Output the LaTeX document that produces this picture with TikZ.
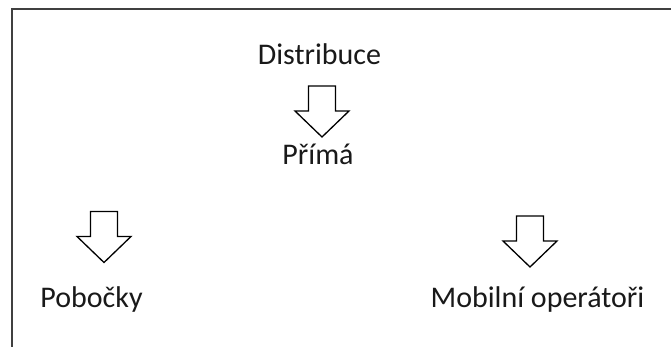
\documentclass[tikz,border=0pt]{standalone}
\usepackage{fontspec}
\setmainfont{Carlito}
\begin{document}
\begin{tikzpicture}[x=1pt,y=-1pt,
  frame/.style={draw=black!75,line width=2pt},
  label/.style={anchor=base,inner sep=0pt,font=\fontsize{30}{32}\selectfont,text=black!90},
  downarrow/.style={draw=black,line width=1.3pt,fill=white,line join=miter}
]
\useasboundingbox (0,0) rectangle (671,347);
% open frame: top and left sides only
\draw[frame] (11.5,347) -- (11.5,9.5) -- (671,9.5);

% labels
\node[label] (dist) at (319.5,65) {Distribuce};
\node[label] (prima) at (318,165) {Přímá};
\node[label] (pob) at (91.5,307) {Pobočky};
\node[label] (mob) at (537.5,307) {Mobilní operátoři};

% hollow block arrows, given by top centre
\foreach \cx/\ty/\nm in {322/86/a1, 104/211.5/a2, 530/216/a3}{
  \draw[downarrow] (\cx-13.5,\ty) -- (\cx+13.5,\ty) -- (\cx+13.5,\ty+25)
    -- (\cx+27,\ty+25) -- (\cx,\ty+51) -- (\cx-27,\ty+25)
    -- (\cx-13.5,\ty+25) -- cycle;
  \coordinate (\nm) at (\cx,\ty);
}
\end{tikzpicture}
\end{document}
